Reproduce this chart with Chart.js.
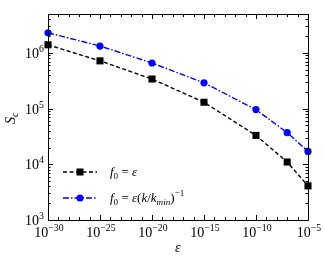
<!DOCTYPE html>
<html>
<head>
<meta charset="utf-8">
<script src="https://cdn.jsdelivr.net/npm/chart.js@4.4.1/dist/chart.umd.min.js"></script>
<style>
  html, body { margin: 0; padding: 0; background: #fff; }
</style>
</head>
<body>
<canvas id="myChart" width="325" height="260"></canvas>
<script>
// data
const eps = [1e-30, 1e-25, 1e-20, 1e-15, 1e-10, 1e-7, 1e-5]
const scConst = [1.4e6, 7.2e5, 3.4e5, 1.3e5, 3.3e4, 1.1e4, 4.1e3]   // f0 = eps
const scScaled = [2.3e6, 1.33e6, 6.6e5, 2.9e5, 9.6e4, 3.7e4, 1.7e4] // f0 = eps (k/kmin)^-1
const xExp = [-30, -25, -20, -15, -10, -5]   // labelled x decades
const yExp = [3, 4, 5, 6]                    // labelled y decades

const SERIF = '"Liberation Serif", "DejaVu Serif", serif'

// draw a run of text pieces: {t, it, sub, sup}
function drawRich(ctx, x, y, parts, size, measureOnly) {
  let w = 0
  parts.forEach(p => {
    let s = (p.sub || p.sup) ? size * 0.7 : size
    ctx.font = (p.it ? 'italic ' : '') + s + 'px ' + SERIF
    let dy = p.sub ? 3 : (p.sup ? -6 : 0)
    if (!measureOnly) ctx.fillText(p.t, x + w, y + dy)
    w += ctx.measureText(p.t).width
  })
  return w
}

function powParts(e) {
  return [{t: '10'}, {t: (e < 0 ? '\u2212' + (-e) : '' + e), sup: true}]
}

const frame = {
  id: 'frame',
  afterDraw(chart) {
    const ctx = chart.ctx
    const a = chart.chartArea
    const xs = chart.scales.x, ys = chart.scales.y
    ctx.save()
    ctx.strokeStyle = '#000'
    ctx.lineWidth = 1
    ctx.strokeRect(a.left + 0.5, a.top + 0.5, a.right - a.left, a.bottom - a.top)

    // inward ticks on all four sides
    ctx.beginPath()
    xs.ticks.forEach(t => {
      let px = Math.round(xs.getPixelForValue(t.value)) + 0.5
      let len = xExp.includes(Math.round(Math.log10(t.value))) ? 5 : 3
      ctx.moveTo(px, a.bottom); ctx.lineTo(px, a.bottom - len)
      ctx.moveTo(px, a.top); ctx.lineTo(px, a.top + len)
    })
    ys.ticks.forEach(t => {
      let py = Math.round(ys.getPixelForValue(t.value)) + 0.5
      let lg = Math.log10(t.value)
      let len = Math.abs(lg - Math.round(lg)) < 1e-9 ? 5 : 2.5
      ctx.moveTo(a.left, py); ctx.lineTo(a.left + len, py)
      ctx.moveTo(a.right, py); ctx.lineTo(a.right - len, py)
    })
    ctx.stroke()

    // tick labels
    ctx.fillStyle = '#000'
    ctx.textBaseline = 'alphabetic'
    ctx.textAlign = 'left'
    const fs = 14
    xExp.forEach(e => {
      let px = xs.getPixelForValue(Math.pow(10, e))
      let w = drawRich(ctx, 0, 0, powParts(e), fs, true)
      drawRich(ctx, px - w / 2 + 1, a.bottom + 17, powParts(e), fs)
    })
    yExp.forEach(e => {
      let py = ys.getPixelForValue(Math.pow(10, e))
      let w = drawRich(ctx, 0, 0, powParts(e), fs, true)
      drawRich(ctx, a.left - 4 - w, py + 5, powParts(e), fs)
    })

    // axis titles
    ctx.font = 'italic 14px ' + SERIF
    ctx.fillText('\u03b5', 175, 252)
    ctx.save()
    ctx.translate(15, 124)
    ctx.rotate(-Math.PI / 2)
    drawRich(ctx, 0, 0, [{t: 'S', it: true}, {t: 'c', it: true, sub: true}], 14)
    ctx.restore()

    // legend inside the axes
    const rows = [
      {ds: chart.data.datasets[0], y: 172, parts: [{t: 'f', it: true}, {t: '0', sub: true}, {t: ' = '}, {t: '\u03b5', it: true}]},
      {ds: chart.data.datasets[1], y: 198, parts: [{t: 'f', it: true}, {t: '0', sub: true}, {t: ' = '}, {t: '\u03b5', it: true}, {t: '('}, {t: 'k', it: true}, {t: '/'}, {t: 'k', it: true}, {t: 'min', it: true, sub: true}, {t: ')'}, {t: '\u22121', sup: true}]}
    ]
    rows.forEach(r => {
      ctx.strokeStyle = r.ds.borderColor
      ctx.lineWidth = r.ds.borderWidth
      ctx.setLineDash(r.ds.borderDash)
      ctx.beginPath()
      ctx.moveTo(63, r.y); ctx.lineTo(97, r.y)
      ctx.stroke()
      ctx.setLineDash([])
      ctx.fillStyle = r.ds.pointBackgroundColor
      if (r.ds.pointStyle === 'rect') ctx.fillRect(76.5, r.y - 3.5, 7, 7)
      else { ctx.beginPath(); ctx.arc(80, r.y, 3.6, 0, Math.PI * 2); ctx.fill() }
      ctx.fillStyle = '#000'
      drawRich(ctx, 110, r.y + 4, r.parts, 13)
    })
    ctx.restore()
  }
}

const ctx = document.getElementById('myChart')

new Chart(ctx, {
  type: 'line',
  data: {
    datasets: [{
      label: 'f0 = eps',
      data: eps.map((x, i) => ({x: x, y: scConst[i]})),
      borderColor: '#000',
      backgroundColor: '#000',
      pointBackgroundColor: '#000',
      pointBorderWidth: 0,
      borderWidth: 1.4,
      borderDash: [4, 2.5],
      pointStyle: 'rect',
      pointRadius: 5,
      clip: false
    }, {
      label: 'f0 = eps (k/kmin)^-1',
      data: eps.map((x, i) => ({x: x, y: scScaled[i]})),
      borderColor: '#0000ff',
      backgroundColor: '#0000ff',
      pointBackgroundColor: '#0000ff',
      pointBorderWidth: 0,
      borderWidth: 1.4,
      borderDash: [6, 2, 1.5, 2],
      pointStyle: 'circle',
      pointRadius: 3.6,
      clip: false
    }]
  },
  options: {
    responsive: false,
    animation: false,
    devicePixelRatio: 1,
    layout: { padding: { top: 14, right: 17, left: 0, bottom: 0 } },
    plugins: { legend: { display: false }, tooltip: { enabled: false } },
    scales: {
      x: {
        type: 'logarithmic',
        min: 1e-30,
        max: 1e-5,
        afterBuildTicks: axis => {
          let t = []
          for (let e = -30; e <= -5; e++) t.push({value: Math.pow(10, e)})
          axis.ticks = t
        },
        afterFit: axis => { axis.height = 40 },
        ticks: { display: false },
        grid: { display: false },
        border: { display: false }
      },
      y: {
        type: 'logarithmic',
        min: 1e3,
        max: 5e6,
        afterBuildTicks: axis => {
          let t = []
          for (let e = 3; e <= 6; e++)
            for (let m = 1; m <= 9; m++) {
              let v = m * Math.pow(10, e)
              if (v <= 5e6) t.push({value: v})
            }
          axis.ticks = t
        },
        afterFit: axis => { axis.width = 48 },
        ticks: { display: false },
        grid: { display: false },
        border: { display: false }
      }
    }
  },
  plugins: [frame]
});
</script>
</body>
</html>
